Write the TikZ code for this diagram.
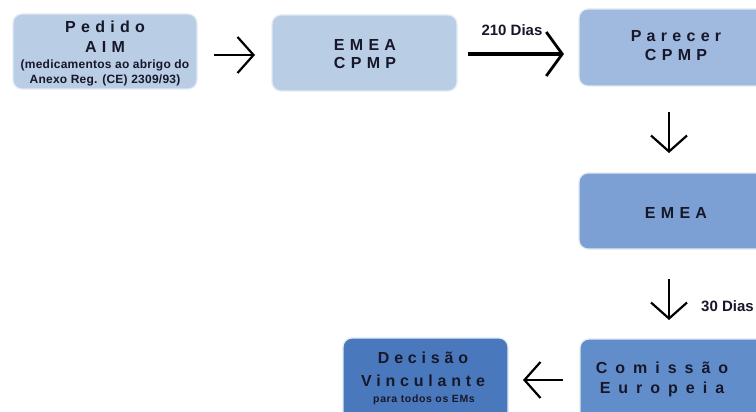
\documentclass[tikz,border=0pt]{standalone}
\usepackage{fontspec}
\setmainfont{Liberation Sans}
\usetikzlibrary{arrows.meta}
\newcommand\lsp[1]{\addfontfeatures{LetterSpace=#1}}
\definecolor{cA}{HTML}{B9CDE5}
\definecolor{cB}{HTML}{A0B9DE}
\definecolor{cC}{HTML}{7CA0D3}
\definecolor{cD}{HTML}{628DCB}
\definecolor{cE}{HTML}{4A78BC}
\definecolor{txt}{HTML}{17172A}
\definecolor{rim}{HTML}{E2EAF4}
\begin{document}
\begin{tikzpicture}[x=1pt,y=-1pt,
  box/.style={draw=rim,line width=1.2pt,rounded corners=9pt},
  lbl/.style={inner sep=0pt,text=txt,font=\bfseries,align=center,anchor=base},
  big/.style={font=\bfseries\fontsize{16}{16}\selectfont\lsp{#1}},
  arr/.style={line width=2.2pt,-{Straight Barb[length=16pt,width=36pt,line width=2.2pt]}},
  arrbig/.style={line width=3.4pt,-{Straight Barb[length=16pt,width=44pt,line width=2.8pt]}}]
\useasboundingbox (0,0) rectangle (756,412);
\begin{scope}
\clip (0,0) rectangle (756,412);
% boxes
\filldraw[box,fill=cA] (13,14) rectangle (197,89);
\filldraw[box,fill=cA] (272,15) rectangle (457,91);
\filldraw[box,fill=cB] (579,9) rectangle (772,86);
\filldraw[box,fill=cC] (579,173) rectangle (772,249);
\filldraw[box,fill=cD] (580,339) rectangle (772,425);
\filldraw[box,fill=cE] (343,338) rectangle (508,425);
\end{scope}
% texts
\node[lbl,big=33] (t1a) at (105,33) {Pedido};
\node[lbl,big=33] (t1b) at (105,53) {AIM};
\node[lbl,font=\bfseries\fontsize{12}{12}\selectfont\lsp{2}] (t1c) at (105,69) {(medicamentos ao abrigo do};
\node[lbl,font=\bfseries\fontsize{12}{12}\selectfont\lsp{2}] (t1d) at (105,84) {Anexo Reg. (CE) 2309/93)};
\node[lbl,big=33] (t2a) at (365,51) {EMEA};
\node[lbl,big=33] (t2b) at (365,69) {CPMP};
\node[lbl,big=33] (t3a) at (676,42) {Parecer};
\node[lbl,big=33] (t3b) at (676,61) {CPMP};
\node[lbl,big=33] (t4) at (676,218) {EMEA};
\node[lbl,big=50] (t5a) at (662,373) {Comissão};
\node[lbl,big=50] (t5b) at (662,393) {Europeia};
\node[lbl,big=30] (t6a) at (423,363) {Decisão};
\node[lbl,big=30] (t6b) at (423,386) {Vinculante};
\node[lbl,font=\bfseries\fontsize{10.5}{10.5}\selectfont\lsp{6}] (t6c) at (424,402) {para todos os EMs};
% arrow coordinates
\coordinate (a1s) at (214,55); \coordinate (a1e) at (255,55);
\coordinate (a2s) at (468,54); \coordinate (a2e) at (564,54);
\coordinate (a3s) at (669,112); \coordinate (a3e) at (669,153);
\coordinate (a4s) at (669,279); \coordinate (a4e) at (669,320);
\coordinate (a5s) at (563,380); \coordinate (a5e) at (523,380);
\draw[arr] (a1s) -- (a1e);
\draw[arrbig] (a2s) -- (a2e);
\draw[arr] (a3s) -- (a3e);
\draw[arr] (a4s) -- (a4e);
\draw[arr] (a5s) -- (a5e);
\node[lbl,font=\bfseries\fontsize{15}{15}\selectfont] (l1) at (512,36) {210 Dias};
\node[lbl,font=\bfseries\fontsize{15}{15}\selectfont,anchor=base west] (l2) at (701,311) {30 Dias};
\end{tikzpicture}
\end{document}
